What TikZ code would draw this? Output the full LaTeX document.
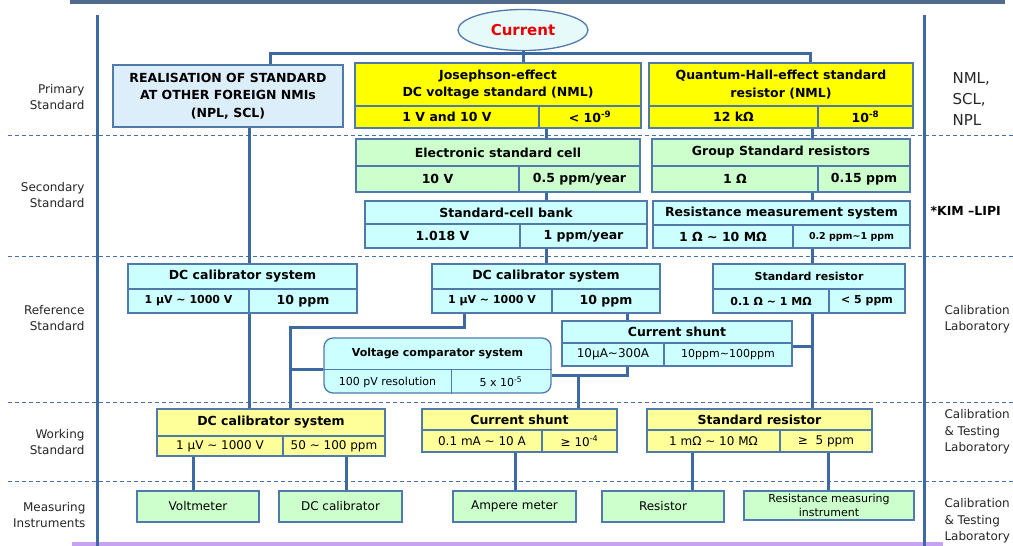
\documentclass[tikz,border=0pt]{standalone}
\usepackage{fontspec}
\setmainfont{DejaVu Sans}
\usetikzlibrary{calc,shapes.geometric}
\definecolor{lineblue}{RGB}{62,104,160}
\definecolor{bord}{RGB}{80,122,172}
\definecolor{dashc}{RGB}{70,112,172}
\definecolor{topbar}{RGB}{82,106,140}
\definecolor{lav}{RGB}{200,162,242}
\definecolor{yel}{RGB}{255,255,0}
\definecolor{lyel}{RGB}{255,255,153}
\definecolor{lgreen}{RGB}{204,255,204}
\definecolor{lcyan}{RGB}{204,255,255}
\definecolor{lblue}{RGB}{220,238,250}
\definecolor{ellf}{RGB}{230,250,250}
\definecolor{curred}{RGB}{232,0,0}
\newcommand\tld{\textasciitilde}
\newcommand\cell[7]{\node[bx,#2,minimum width={#5-#3},minimum height={#6-#4}] (#1) at ({(#3+#5)/2},{(#4+#6)/2}) {#7};}
\pgfdeclarelayer{back}\pgfdeclarelayer{bg}\pgfsetlayers{back,bg,main}
\tikzset{
  bx/.style={draw=bord,line width=1.3pt,inner sep=0pt,align=center,text=black},
  B/.style={font=\fontsize{12.5}{17.5}\selectfont\bfseries},
  Bs/.style={font=\fontsize{11}{14}\selectfont\bfseries},
  Bxs/.style={font=\fontsize{9.5}{12}\selectfont\bfseries},
  N/.style={font=\fontsize{12}{15}\selectfont},
  Ns/.style={font=\fontsize{11}{14}\selectfont},
  conn/.style={draw=lineblue,line width=3pt},
  lbl/.style={font=\fontsize{12}{16.5}\selectfont,text=black!85},
  dsh/.style={draw=dashc,line width=0.9pt,dash pattern=on 4pt off 3pt}
}
\begin{document}
\begin{tikzpicture}[x=1pt,y=-1pt]
\useasboundingbox (0,0) rectangle (1013,546);
\begin{pgfonlayer}{back}
\fill[white] (0,0) rectangle (1013,546);
\fill[topbar] (70,0) rectangle (1005,3.5);
\fill[lav] (72,542) rectangle (943,546);
\foreach \yy in {135,256,402,481} \draw[dsh] (8,\yy) -- (1013,\yy);
\draw[lineblue,line width=3pt] (97,15) -- (97,546);
\draw[lineblue,line width=3pt] (924,15) -- (924,546);
\end{pgfonlayer}
% left labels
\node[lbl,anchor=east,align=right] (l1) at (88,97) {Primary\\Standard};
\node[lbl,anchor=east,align=right] (l2) at (88,195) {Secondary\\Standard};
\node[lbl,anchor=east,align=right] (l3) at (88,318) {Reference\\Standard};
\node[lbl,anchor=east,align=right] (l4) at (88,442) {Working\\Standard};
\node[lbl,anchor=east,align=right] (l5) at (89,515) {Measuring\\Instruments};
% right labels
\node[font=\fontsize{15}{21}\selectfont,anchor=west,align=left,text=black!85] (r1) at (949,99) {NML,\\SCL,\\NPL};
\node[font=\fontsize{12.5}{15}\selectfont\bfseries,anchor=west] (r2) at (927,211) {*KIM –LIPI};
\node[lbl,anchor=west,align=left] (r3) at (941,319) {Calibration\\Laboratory};
\node[lbl,anchor=west,align=left] (r4) at (941,432) {Calibration\\\&~Testing\\Laboratory};
\node[lbl,anchor=west,align=left] (r5) at (941,521) {Calibration\\\&~Testing\\Laboratory};
% top
\node[ellipse,draw=bord,line width=1.3pt,fill=ellf,minimum width=130,minimum height=41,inner sep=0,text=curred,font=\fontsize{15}{18}\selectfont\bfseries] (cur) at (523,30) {Current};
% primary
\cell{real}{fill=lblue,B}{113}{65}{343}{127}{REALISATION OF STANDARD\\AT OTHER FOREIGN NMIs\\(NPL, SCL)}
\cell{josT}{fill=yel,B}{355}{63}{641}{106}{Josephson-effect\\DC voltage standard (NML)}
\cell{josL}{fill=yel,B}{355}{106}{539}{128}{1 V and 10 V}
\cell{josR}{fill=yel,B}{539}{106}{641}{128}{< 10\textsuperscript{-9}}
\cell{qheT}{fill=yel,B}{649}{63}{913}{106}{Quantum-Hall-effect standard\\resistor (NML)}
\cell{qheL}{fill=yel,B}{649}{106}{818}{128}{12 kΩ}
\cell{qheR}{fill=yel,B}{818}{106}{913}{128}{10\textsuperscript{-8}}
% secondary
\cell{escT}{fill=lgreen,B}{356}{139}{640}{166}{Electronic standard cell}
\cell{escL}{fill=lgreen,B}{356}{166}{519}{192}{10 V}
\cell{escR}{fill=lgreen,B}{519}{166}{640}{192}{0.5 ppm/year}
\cell{scbT}{fill=lcyan,B}{365}{201}{647}{224}{Standard-cell bank}
\cell{scbL}{fill=lcyan,B}{365}{224}{520}{248}{1.018 V}
\cell{scbR}{fill=lcyan,B}{520}{224}{647}{248}{1 ppm/year}
\cell{gsrT}{fill=lgreen,B}{652}{139}{910}{166}{Group Standard resistors}
\cell{gsrL}{fill=lgreen,B}{652}{166}{818}{192}{1 Ω}
\cell{gsrR}{fill=lgreen,B}{818}{166}{910}{192}{0.15 ppm}
\cell{rmsT}{fill=lcyan,B}{653}{201}{910}{225}{Resistance measurement system}
\cell{rmsL}{fill=lcyan,B}{653}{225}{793}{248}{1 Ω \tld{} 10 MΩ}
\cell{rmsR}{fill=lcyan,Bxs}{793}{225}{910}{248}{0.2 ppm\tld{}1 ppm}
% reference
\cell{dclT}{fill=lcyan,B}{128}{264}{357}{289}{DC calibrator system}
\cell{dclL}{fill=lcyan,Bs}{128}{289}{249}{313}{1 µV \tld{} 1000 V}
\cell{dclR}{fill=lcyan,B}{249}{289}{357}{313}{10 ppm}
\cell{dcmT}{fill=lcyan,B}{432}{264}{660}{289}{DC calibrator system}
\cell{dcmL}{fill=lcyan,Bs}{432}{289}{552}{313}{1 µV \tld{} 1000 V}
\cell{dcmR}{fill=lcyan,B}{552}{289}{660}{313}{10 ppm}
\cell{srrT}{fill=lcyan,Bs}{713}{264}{905}{289}{Standard resistor}
\cell{srrL}{fill=lcyan,Bs}{713}{289}{829}{313}{0.1 Ω \tld{} 1 MΩ}
\cell{srrR}{fill=lcyan,Bs}{829}{289}{905}{313}{< 5 ppm}
\cell{csrT}{fill=lcyan,B}{562}{321}{792}{343}{Current shunt}
\cell{csrL}{fill=lcyan,N}{562}{343}{664}{366}{10µA\tld{}300A}
\cell{csrR}{fill=lcyan,Ns}{664}{343}{792}{366}{10ppm\tld{}100ppm}
\node[bx,fill=lcyan,rounded corners=9pt,minimum width=227,minimum height=55] (vcs) at (437.5,365.5) {};
\coordinate (vd) at (451,369);
\draw[bord,line width=1pt] (vcs.west |- vd) -- (vcs.east |- vd);
\draw[bord,line width=1pt] (vd) -- (vd |- vcs.south);
\node[Bs] (vcsT) at (437.5,354) {Voltage comparator system};
\node[Ns] (vcsL) at (387.5,382) {100 pV resolution};
\node[Ns] (vcsR) at (501,382) {5 x 10\textsuperscript{-5}};
% working
\cell{wdcT}{fill=lyel,B}{157}{409}{385}{436}{DC calibrator system}
\cell{wdcL}{fill=lyel,N}{157}{436}{283}{456}{1 µV \tld{} 1000 V}
\cell{wdcR}{fill=lyel,N}{283}{436}{385}{456}{50 \tld{} 100 ppm}
\cell{wcsT}{fill=lyel,B}{422}{409}{617}{430}{Current shunt}
\cell{wcsL}{fill=lyel,N}{422}{430}{542}{452}{0.1 mA \tld{} 10 A}
\cell{wcsR}{fill=lyel,N}{542}{430}{617}{452}{≥ 10\textsuperscript{-4}}
\cell{wsrT}{fill=lyel,B}{647}{409}{872}{430}{Standard resistor}
\cell{wsrL}{fill=lyel,N}{647}{430}{780}{452}{1 mΩ \tld{} 10 MΩ}
\cell{wsrR}{fill=lyel,N}{780}{430}{872}{452}{≥~~5 ppm}
% measuring
\cell{vm}{fill=lgreen,N}{137}{491}{259}{522}{Voltmeter}
\cell{dcc}{fill=lgreen,N}{279}{491}{402}{522}{DC calibrator}
\cell{am}{fill=lgreen,N}{453}{491}{576}{522}{Ampere meter}
\cell{res}{fill=lgreen,N}{602}{491}{724}{522}{Resistor}
\cell{rmi}{fill=lgreen,font=\fontsize{11}{14}\selectfont}{744}{491}{914}{520}{Resistance measuring\\instrument}
% connectors
\coordinate (bus) at (0,53);
\coordinate (xA) at (270,0);
\coordinate (xB) at (810,0);
\coordinate (x1) at (249,0);
\coordinate (x2) at (546,0);
\coordinate (x3) at (812,0);
\coordinate (x4) at (464,0);
\coordinate (x5) at (290,0);
\coordinate (x6) at (627,0);
\coordinate (x7) at (578,0);
\coordinate (y1) at (0,327);
\coordinate (y2) at (0,369);
\coordinate (y3) at (0,375);
\coordinate (y4) at (0,346);
\coordinate (m1) at (193,0);
\coordinate (m2) at (346,0);
\coordinate (m3) at (515,0);
\coordinate (m4) at (692,0);
\coordinate (m5) at (828,0);
\begin{pgfonlayer}{bg}
\draw[conn] (cur.south) -- (josT.north -| cur.south);
\draw[conn] (real.north -| xA) -- (xA |- bus) -- (xB |- bus) -- (qheT.north -| xB);
\draw[conn] (real.south -| x1) -- (dclT.north -| x1);
\draw[conn] (dclL.south -| x1) -- (wdcT.north -| x1);
\draw[conn] (josR.south -| x2) -- (dcmT.north -| x2);
\draw[conn] (qheL.south -| x3) -- (wsrT.north -| x3);
\draw[conn] (csrR.east |- y4) -- (x3 |- y4);
\draw[conn] (dcmL.south -| x4) -- (x4 |- y1) -- (x5 |- y1) -- (wdcT.north -| x5);
\draw[conn] (x5 |- y2) -- (vcs.west |- y2);
\draw[conn] (dcmR.south -| x6) -- (csrT.north -| x6);
\draw[conn] (vcs.east |- y3) -- (x6 |- y3) -- (csrL.south -| x6);
\draw[conn] (x7 |- y3) -- (wcsT.north -| x7);
\draw[conn] (wdcL.south -| m1) -- (vm.north -| m1);
\draw[conn] (wdcR.south -| m2) -- (dcc.north -| m2);
\draw[conn] (wcsL.south -| m3) -- (am.north -| m3);
\draw[conn] (wsrL.south -| m4) -- (res.north -| m4);
\draw[conn] (wsrR.south -| m5) -- (rmi.north -| m5);
\end{pgfonlayer}
\end{tikzpicture}
\end{document}
